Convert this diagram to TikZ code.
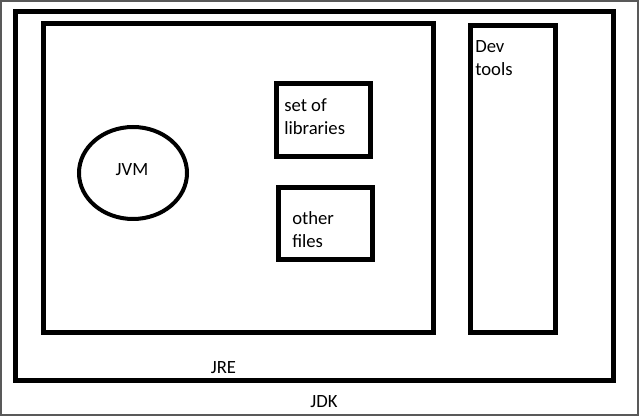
\documentclass[tikz,border=0pt]{standalone}
\usepackage{fontspec}
\setmainfont{Carlito}
\usepackage{tikz}
\usetikzlibrary{positioning,calc}

\begin{document}
\begin{tikzpicture}[
  x=0.75pt, y=-0.75pt,
  box/.style={line width=3.75pt},
  label text/.style={font=\fontsize{14}{17.25}\selectfont, align=left, inner sep=0pt}
]
  \useasboundingbox (0,0) rectangle (639,416);

  % Frame of the picture
  \draw[line width=1.5pt, black!65] (1,1) rectangle (638,415);

  % JDK
  \draw[box] (15.5,11.5) rectangle (613.5,380.5);
  \node[label text] (jdk) at (324,402) {JDK};

  % JRE
  \draw[box] (43.5,23.5) rectangle (433.5,333);
  \node[label text] (jre) at (223.5,367.5) {JRE};

  % JVM
  \draw[line width=3pt] (133,173) ellipse [x radius=54, y radius=46];
  \node[label text] (jvm) at (132,169.5) {JVM};

  % Libraries and other files (base = last line)
  \draw[box] (276.5,83.5) rectangle (370.5,156.5);
  \node[label text, anchor=base west] (libs) at (284,135) {set of\\libraries};

  \draw[box] (278.5,187.5) rectangle (372.5,260);
  \node[label text, anchor=base west] (files) at (292,248) {other\\files};

  % Dev tools
  \draw[box] (470.5,25.5) rectangle (555.5,333);
  \node[label text, anchor=base west] (dev) at (475,76) {Dev\\tools};
\end{tikzpicture}
\end{document}
